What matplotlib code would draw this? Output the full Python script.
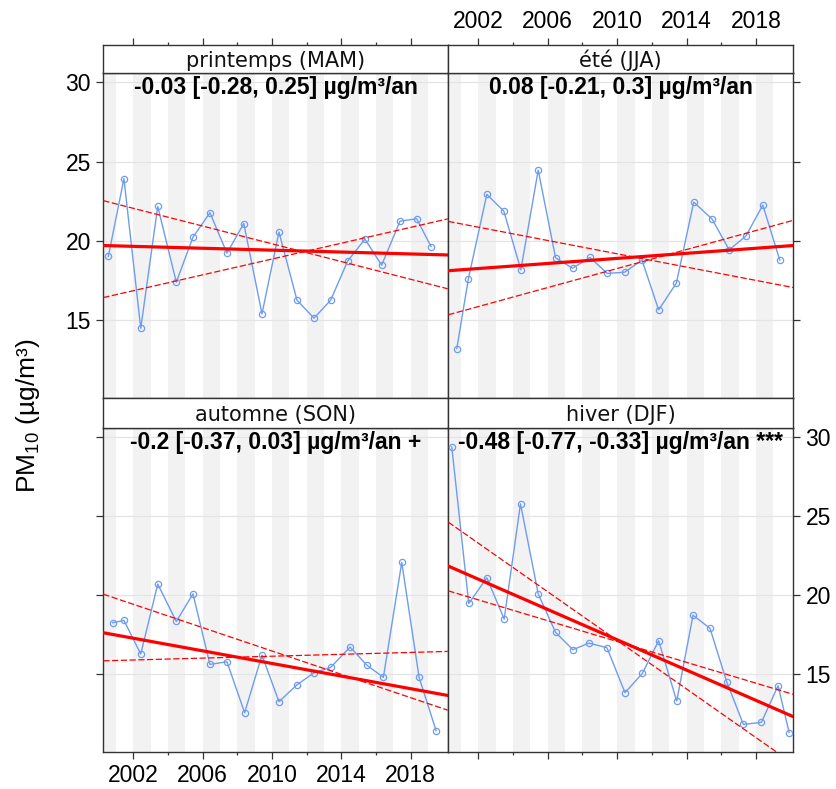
import numpy as np
import matplotlib.pyplot as plt
from matplotlib.ticker import FixedLocator

plt.rcParams['font.family'] = ['Liberation Sans', 'DejaVu Sans']
plt.rcParams['mathtext.fontset'] = 'custom'
plt.rcParams['mathtext.rm'] = 'Liberation Sans'
plt.rcParams['mathtext.it'] = 'Liberation Sans:italic'

# seasonal means of PM10 (ug/m3), dates as decimal years
mam_dates = [2000.56, 2001.46, 2002.43, 2003.41, 2004.48, 2005.44, 2006.42, 2007.40, 2008.37, 2009.42,
             2010.40, 2011.44, 2012.42, 2013.38, 2014.36, 2015.36, 2016.32, 2017.38, 2018.34, 2019.17]
mam_pm10 = [19.01, 23.92, 14.48, 22.17, 17.39, 20.23, 21.77, 19.22, 21.09, 15.39,
            20.55, 16.25, 15.12, 16.25, 18.72, 20.11, 18.46, 21.24, 21.39, 19.64]

jja_dates = [2000.76, 2001.43, 2002.49, 2003.47, 2004.45, 2005.45, 2006.45, 2007.43, 2008.43, 2009.43,
             2010.43, 2011.43, 2012.39, 2013.41, 2014.41, 2015.47, 2016.45, 2017.41, 2018.39, 2019.37]
jja_pm10 = [13.20, 17.62, 22.93, 21.87, 18.17, 24.46, 18.93, 18.27, 18.95, 17.94,
            18.02, 18.78, 15.64, 17.33, 22.44, 21.37, 19.43, 20.29, 22.25, 18.78]

son_dates = [2000.81, 2001.46, 2002.43, 2003.41, 2004.48, 2005.44, 2006.42, 2007.40, 2008.42, 2009.42,
             2010.40, 2011.44, 2012.42, 2013.38, 2014.50, 2015.46, 2016.42, 2017.48, 2018.48, 2019.46]
son_pm10 = [18.25, 18.40, 16.27, 20.70, 18.33, 20.08, 15.61, 15.78, 12.55, 16.20,
            13.25, 14.32, 15.08, 15.42, 16.71, 15.57, 14.79, 22.07, 14.79, 11.41]

djf_dates = [2000.47, 2001.45, 2002.49, 2003.49, 2004.43, 2005.45, 2006.45, 2007.45, 2008.37, 2009.41,
             2010.45, 2011.45, 2012.39, 2013.43, 2014.37, 2015.35, 2016.31, 2017.27, 2018.31, 2019.27, 2019.91]
djf_pm10 = [29.39, 19.47, 21.10, 18.48, 25.78, 20.08, 17.64, 16.54, 16.96, 16.67,
            13.82, 15.04, 17.11, 13.29, 18.73, 17.89, 14.51, 11.81, 11.94, 14.26, 11.29]

# Theil-Sen slopes [central, lower, upper] (ug/m3/yr) and line value in 2010
mam_slopes = [-0.03, -0.28, 0.25]
mam_at2010 = [19.41, 19.81, 18.85]
jja_slopes = [0.08, -0.21, 0.30]
jja_at2010 = [18.89, 19.18, 18.25]
son_slopes = [-0.20, -0.37, 0.03]
son_at2010 = [15.67, 16.46, 16.13]
djf_slopes = [-0.48, -0.77, -0.33]
djf_at2010 = [17.17, 17.13, 17.06]

season_names = ['printemps (MAM)', 'été (JJA)', 'automne (SON)', 'hiver (DJF)']
trend_labels = ['-0.03 [-0.28, 0.25] µg/m³/an', '0.08 [-0.21, 0.3] µg/m³/an',
                '-0.2 [-0.37, 0.03] µg/m³/an +', '-0.48 [-0.77, -0.33] µg/m³/an ***']

xlim = (2000.27, 2020.13)
ylim = (10.08, 30.57)
yticks = [15, 20, 25, 30]
major_x = [2002, 2006, 2010, 2014, 2018]
minor_x = [2004, 2008, 2012, 2016]

blue = '#6E9CF0'
band = '#F2F2F2'
grid = '#E4E4E4'
frame = '#333333'

W, H = 836, 789
fig = plt.figure(figsize=(W / 100, H / 100), dpi=100)

col_x = [(103.3, 447.7), (448.3, 793.0)]
row_y = [(45.0, 73.3, 398.0), (398.0, 428.3, 751.7)]  # strip top, panel top, panel bottom


def px_box(x0, x1, ytop, ybot):
    return [x0 / W, 1 - ybot / H, (x1 - x0) / W, (ybot - ytop) / H]


def style_ticks(ax):
    ax.set_xlim(xlim)
    for sp in ax.spines.values():
        sp.set_color(frame)
        sp.set_linewidth(1.0)
    ax.xaxis.set_major_locator(FixedLocator(major_x))
    ax.xaxis.set_minor_locator(FixedLocator(minor_x))
    ax.tick_params(which='major', direction='out', length=5, width=0.9,
                   color=frame, labelsize=16.5, pad=4)
    ax.tick_params(which='minor', direction='out', length=2, width=0.9, color=frame)
    ax.tick_params(axis='both', which='both', top=False, bottom=False,
                   left=False, right=False, labeltop=False, labelbottom=False,
                   labelleft=False, labelright=False)


def draw_panel(ax, dates, values, slopes, at2010, label):
    for yr in range(2000, 2020, 2):
        ax.axvspan(yr, yr + 1, color=band, lw=0, zorder=0)
    for g in yticks:
        ax.axhline(g, color=grid, lw=0.9, zorder=1)
    ax.plot(dates, values, color=blue, lw=1.0, marker='o', ms=4.5,
            mfc='none', mec=blue, mew=0.9, zorder=3)
    xs = np.array(xlim)
    for i, (s, v) in enumerate(zip(slopes, at2010)):
        if i == 0:
            ax.plot(xs, v + s * (xs - 2010), color='red', lw=2.3, zorder=4)
        else:
            ax.plot(xs, v + s * (xs - 2010), color='red', lw=0.9,
                    dashes=(5, 2), zorder=4)
    ax.text(0.5, 0.955, label, transform=ax.transAxes, ha='center', va='center',
            fontsize=16.5, fontweight='bold', color='black', zorder=5)
    style_ticks(ax)
    ax.set_ylim(ylim)
    ax.yaxis.set_major_locator(FixedLocator(yticks))


series = [(mam_dates, mam_pm10, mam_slopes, mam_at2010),
          (jja_dates, jja_pm10, jja_slopes, jja_at2010),
          (son_dates, son_pm10, son_slopes, son_at2010),
          (djf_dates, djf_pm10, djf_slopes, djf_at2010)]

for k, (dates, values, slopes, at2010) in enumerate(series):
    r, c = divmod(k, 2)
    x0, x1 = col_x[c]
    s_top, p_top, p_bot = row_y[r]
    ax = fig.add_axes(px_box(x0, x1, p_top, p_bot))
    draw_panel(ax, dates, values, slopes, at2010, trend_labels[k])

    sax = fig.add_axes(px_box(x0, x1, s_top, p_top))
    style_ticks(sax)
    sax.set_yticks([])
    sax.set_facecolor('white')
    sax.text(0.5, 0.45, season_names[k], transform=sax.transAxes, ha='center',
             va='center', fontsize=15, family='DejaVu Sans', color='#111111')

    # lattice-style alternating axes; top axis sits above the strip
    if r == 0 and c == 0:
        sax.tick_params(axis='x', which='both', top=True)
        ax.tick_params(axis='y', left=True, labelleft=True)
    elif r == 0 and c == 1:
        sax.tick_params(axis='x', which='both', top=True, labeltop=True)
        ax.tick_params(axis='y', right=True)
    elif r == 1 and c == 0:
        ax.tick_params(axis='x', which='both', bottom=True, labelbottom=True)
        ax.tick_params(axis='y', left=True)
    else:
        ax.tick_params(axis='x', which='both', bottom=True)
        ax.tick_params(axis='y', right=True, labelright=True)

fig.text(0.034, 0.473, 'PM$_{10}$ (µg/m³)', rotation=90, ha='center', va='center',
         fontsize=19)

fig.savefig('out.png', dpi=100)
